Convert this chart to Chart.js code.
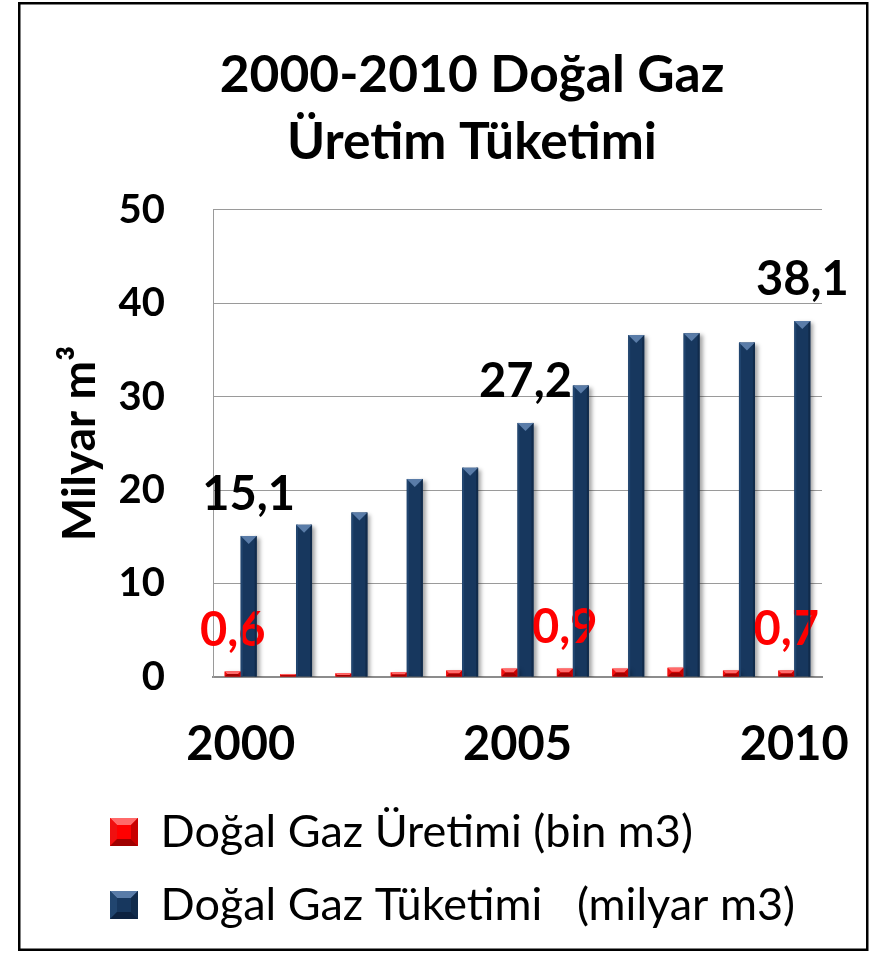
<!DOCTYPE html>
<html lang="tr">
<head>
<meta charset="utf-8">
<title>2000-2010 Doğal Gaz Üretim Tüketimi</title>
<script src="https://cdn.jsdelivr.net/npm/chart.js@4/dist/chart.umd.min.js"></script>
<style>
  html, body { margin: 0; padding: 0; background: #fff; }
  canvas { display: block; }
</style>
</head>
<body>
<canvas id="gasChart" width="871" height="953"></canvas>
<script>
// Years on the category axis and the ones that carry a visible label
const years = ['2000', '2001', '2002', '2003', '2004', '2005', '2006', '2007', '2008', '2009', '2010'];
const yearTicks = ['2000', '2005', '2010'];

// Natural gas production and consumption per year
const uretim = [0.6, 0.3, 0.4, 0.5, 0.7, 0.9, 0.9, 0.9, 1.0, 0.7, 0.7];
const tuketim = [15.1, 16.3, 17.6, 21.2, 22.4, 27.2, 31.2, 36.6, 36.8, 35.8, 38.1];

// Bars whose value is written above them
const uretimLabelled = [0, 6, 10];
const tuketimLabelled = [0, 5, 10];

// Value axis ticks
const yTicks = [0, 10, 20, 30, 40, 50];

const seriesNames = ['Doğal Gaz Üretimi (bin m3)', 'Doğal Gaz Tüketimi   (milyar m3)'];

const palette = [
  { base: '#ff0000', top: '#ff6a6a', left: '#f01010', right: '#c80000', bottom: '#a00000', label: '#ff0000' },
  { base: '#17375e', top: '#5a7ca8', left: '#21456f', right: '#112b4b', bottom: '#0d2240', label: '#000000' }
];

function fmt(v) {
  return v.toFixed(1).replace('.', ',');
}

function bevelRect(ctx, l, t, r, b, d, c) {
  const quads = [
    [[l, t], [r, t], [r - d, t + d], [l + d, t + d], c.top],
    [[l, t], [l + d, t + d], [l + d, b - d], [l, b], c.left],
    [[r, t], [r, b], [r - d, b - d], [r - d, t + d], c.right],
    [[l, b], [l + d, b - d], [r - d, b - d], [r, b], c.bottom]
  ];
  quads.forEach(q => {
    ctx.beginPath();
    ctx.moveTo(q[0][0], q[0][1]);
    for (let k = 1; k < 4; k++) ctx.lineTo(q[k][0], q[k][1]);
    ctx.closePath();
    ctx.fillStyle = q[4];
    ctx.fill();
  });
}

// Title sits a little right of the plot centre
const titleOffset = {
  id: 'titleOffset',
  afterLayout(chart) {
    if (chart.titleBlock) chart.titleBlock.left += 40;
  }
};

// Soft drop shadow under the bars
const barShadow = {
  id: 'barShadow',
  beforeDatasetsDraw(chart) {
    const ctx = chart.ctx;
    ctx.save();
    ctx.shadowColor = 'rgba(0,0,0,0.35)';
    ctx.shadowBlur = 4;
    ctx.shadowOffsetX = 3;
    ctx.shadowOffsetY = 2;
  },
  afterDatasetsDraw(chart) {
    chart.ctx.restore();
  }
};

// Bevelled look on the bars, value labels above selected bars
const barDecor = {
  id: 'barDecor',
  afterDatasetsDraw(chart) {
    const ctx = chart.ctx;
    const labelSets = [uretimLabelled, tuketimLabelled];
    chart.data.datasets.forEach((ds, di) => {
      const meta = chart.getDatasetMeta(di);
      const c = palette[di];
      meta.data.forEach(el => {
        const l = el.x - el.width / 2, r = el.x + el.width / 2;
        const t = Math.min(el.y, el.base), b = Math.max(el.y, el.base);
        const h = b - t;
        ctx.save();
        if (di === 1) {
          // thin side edges and a pointed top facet
          ctx.fillStyle = c.left;
          ctx.fillRect(l, t, 2, h);
          ctx.fillStyle = c.right;
          ctx.fillRect(r - 2, t, 2, h);
          const d = Math.min(el.width / 2, h);
          ctx.beginPath();
          ctx.moveTo(l, t);
          ctx.lineTo(r, t);
          ctx.lineTo(el.x, t + d);
          ctx.closePath();
          ctx.fillStyle = c.top;
          ctx.fill();
        } else {
          const d = Math.min(el.width / 2, h / 2, 4);
          bevelRect(ctx, l, t, r, b, d, c);
        }
        ctx.restore();
      });
      ctx.save();
      ctx.font = 'bold 47px Lato';
      ctx.fillStyle = c.label;
      ctx.textAlign = 'center';
      ctx.textBaseline = 'middle';
      labelSets[di].forEach(i => {
        const el = meta.data[i];
        ctx.fillText(fmt(ds.data[i]), el.x, el.y - 41);
      });
      ctx.restore();
    });
  },
  afterDraw(chart) {
    // bevel on the legend swatches
    const legend = chart.legend;
    if (!legend || !legend.legendHitBoxes) return;
    const ctx = chart.ctx;
    const opts = legend.options.labels;
    const size = opts.boxWidth;
    const itemH = Math.max(opts.font.size, opts.boxHeight);
    legend.legendHitBoxes.forEach((hb, i) => {
      const x = hb.left, y = hb.top + (itemH - opts.boxHeight) / 2;
      bevelRect(ctx, x, y, x + size, y + size, 7, palette[i]);
      ctx.fillStyle = palette[i].base;
      ctx.fillRect(x + 7, y + 7, size - 14, size - 14);
    });
  }
};

// Outer frame around the whole figure
const frame = {
  id: 'frame',
  afterDraw(chart) {
    const ctx = chart.ctx;
    ctx.save();
    ctx.strokeStyle = '#000';
    ctx.lineWidth = 2.5;
    ctx.strokeRect(19.25, 3.25, 848, 946.5);
    ctx.restore();
  }
};

function build() {
  Chart.defaults.font.family = 'Lato';
  Chart.defaults.color = '#000';

  new Chart(document.getElementById('gasChart'), {
    type: 'bar',
    data: {
      labels: years,
      datasets: [
        {
          label: seriesNames[0],
          data: uretim,
          backgroundColor: palette[0].base,
          borderWidth: 0,
          categoryPercentage: 0.578,
          barPercentage: 1
        },
        {
          label: seriesNames[1],
          data: tuketim,
          backgroundColor: palette[1].base,
          borderWidth: 0,
          categoryPercentage: 0.578,
          barPercentage: 1
        }
      ]
    },
    options: {
      responsive: false,
      animation: false,
      events: [],
      layout: { padding: { left: 82, right: 49, top: 0, bottom: 15.5 } },
      plugins: {
        title: {
          display: true,
          text: ['2000-2010 Doğal Gaz', 'Üretim Tüketimi'],
          color: '#000',
          font: { family: 'Lato', size: 51.5, weight: 'bold', lineHeight: 1.3 },
          padding: { top: 41.5, bottom: 34.5 }
        },
        legend: {
          position: 'bottom',
          align: 'start',
          labels: {
            boxWidth: 28,
            boxHeight: 28,
            padding: 28,
            color: '#000',
            font: { family: 'Lato', size: 45 }
          }
        },
        tooltip: { enabled: false }
      },
      scales: {
        x: {
          grid: { display: false, drawTicks: false },
          border: { display: true, color: '#8c8c8c', width: 2 },
          ticks: {
            autoSkip: false,
            maxRotation: 0,
            padding: 40,
            color: '#000',
            font: { family: 'Lato', size: 47, weight: 'bold' },
            callback(value, index) {
              const y = years[index];
              return yearTicks.includes(y) ? y : '';
            }
          },
          afterFit(scale) {
            scale.height = 104.5;
            // year labels may spill into the side margins
            scale.paddingLeft = 0;
            scale.paddingRight = 0;
          }
        },
        y: {
          min: 0,
          max: 50,
          grid: { color: '#9a9a9a', lineWidth: 1, drawTicks: false },
          border: { display: true, color: '#9a9a9a', width: 1 },
          ticks: {
            padding: 48,
            color: '#000',
            font: { family: 'Lato', size: 40, weight: 'bold' }
          },
          afterBuildTicks(scale) {
            scale.ticks = yTicks.map(v => ({ value: v }));
          },
          title: {
            display: true,
            text: 'Milyar m³',
            color: '#000',
            font: { family: 'Lato', size: 46, weight: 'bold' },
            padding: { top: -29, bottom: 0 }
          },
          afterFit(scale) { scale.width = 131; }
        }
      }
    },
    plugins: [titleOffset, barShadow, barDecor, frame]
  });
}

Promise.all([
  document.fonts.load('bold 40px Lato'),
  document.fonts.load('45px Lato')
]).then(build, build);
</script>
</body>
</html>
